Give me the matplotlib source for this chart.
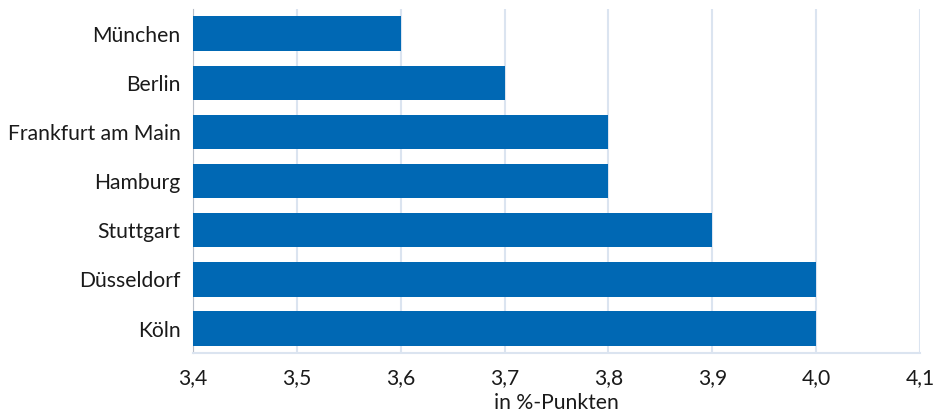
import matplotlib.pyplot as plt

# data
cities = ['München', 'Berlin', 'Frankfurt am Main', 'Hamburg', 'Stuttgart', 'Düsseldorf', 'Köln']
values = [3.6, 3.7, 3.8, 3.8, 3.9, 4.0, 4.0]
xticks = [3.4, 3.5, 3.6, 3.7, 3.8, 3.9, 4.0, 4.1]
xtick_labels = ['3,4', '3,5', '3,6', '3,7', '3,8', '3,9', '4,0', '4,1']

plt.rcParams['font.family'] = ['Lato', 'DejaVu Sans']

fig = plt.figure(figsize=(9.34, 4.12), dpi=100)
ax = fig.add_axes([0.2066, 0.143, 0.7784, 0.835])

ypos = list(range(len(cities)))
ax.barh(ypos, [v - 3.4 for v in values], left=3.4, height=0.7, color='#0068b4', zorder=3)

ax.set_xlim(3.4, 4.1)
ax.set_ylim(len(cities) - 0.5, -0.5)
ax.set_yticks(ypos)
ax.set_yticklabels(cities, fontsize=15.2, color='#1a1a1a')
ax.set_xticks(xticks)
ax.set_xticklabels(xtick_labels, fontsize=15.2, color='#1a1a1a')
ax.tick_params(axis='x', length=0, pad=11)
ax.tick_params(axis='y', length=0, pad=9)

ax.grid(axis='x', color='#dbe4f0', linewidth=1.5, zorder=0)
for s in ['top', 'right']:
    ax.spines[s].set_visible(False)
ax.spines['left'].set_color('#b8bec8')
ax.spines['bottom'].set_color('#dbe4f0')
ax.spines['bottom'].set_linewidth(1.5)

ax.set_xlabel('in %-Punkten', fontsize=15.2, color='#1a1a1a', labelpad=3)

fig.savefig('out.png', dpi=100)
